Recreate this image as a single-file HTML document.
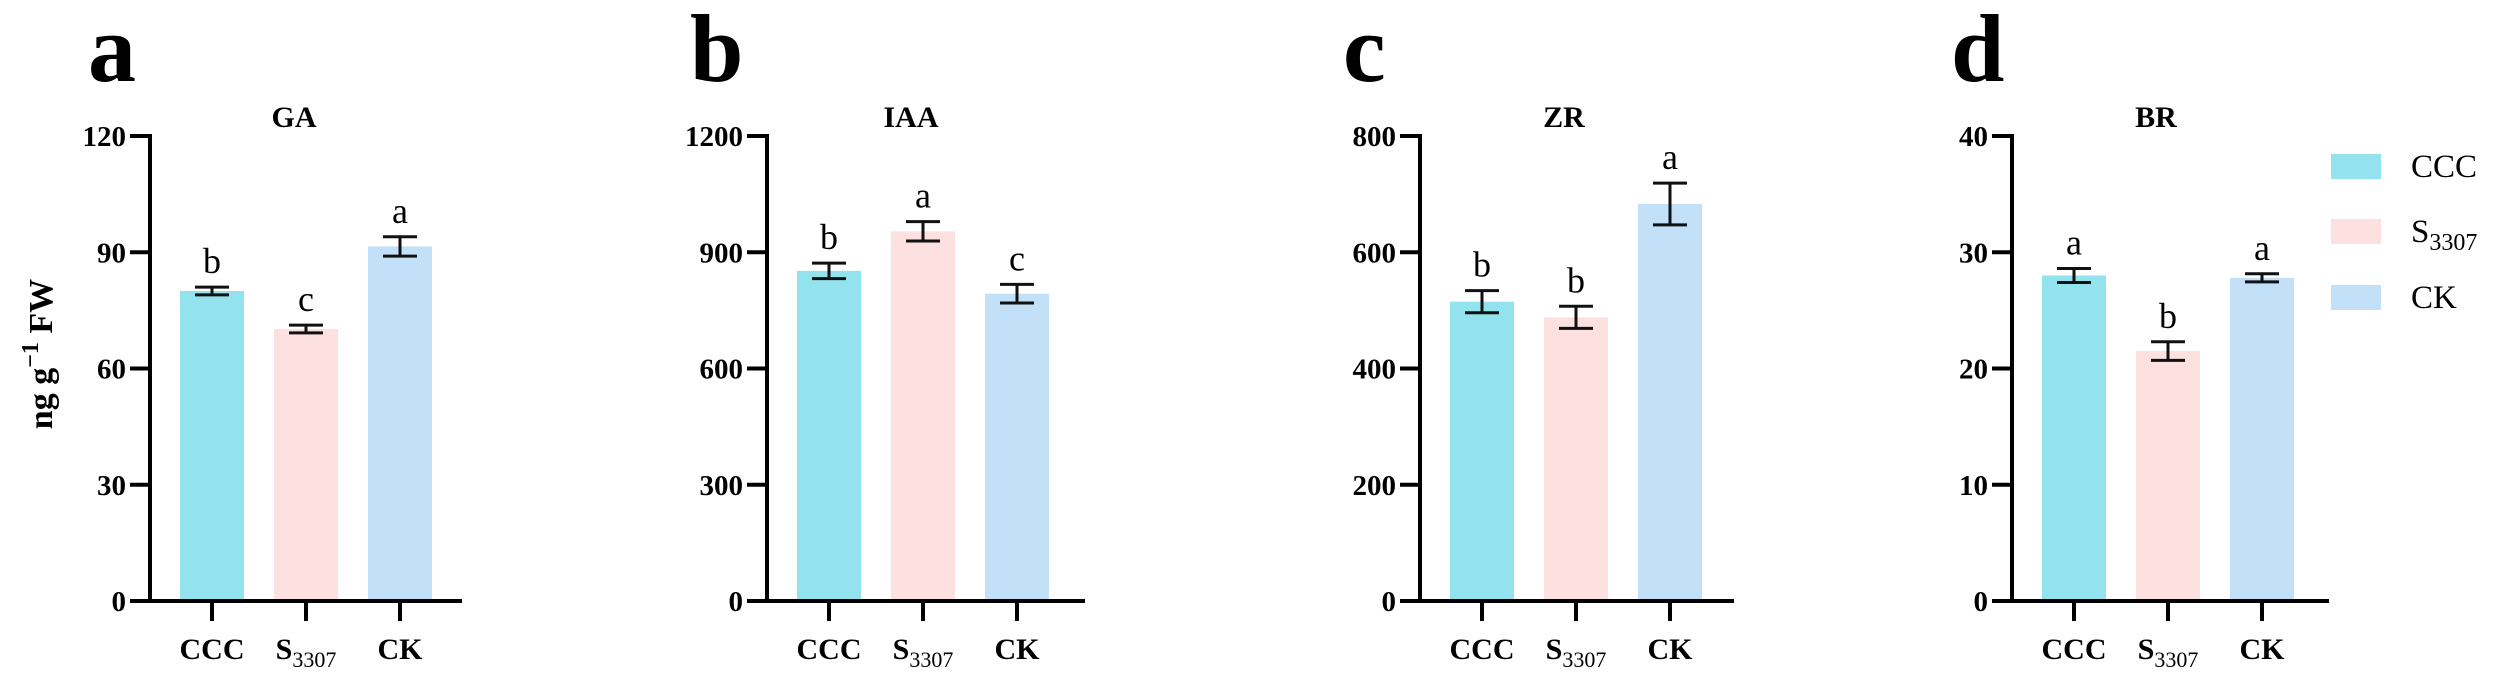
<!DOCTYPE html>
<html><head><meta charset="utf-8"><style>
html,body{margin:0;padding:0;background:#fff;}
svg{display:block;font-family:"Liberation Serif",serif;}
</style></head><body>
<svg id="chart" width="2501" height="690" viewBox="0 0 2501 690" xmlns="http://www.w3.org/2000/svg">
<text transform="translate(52,354) rotate(-90)" text-anchor="middle" font-size="34" font-weight="bold">ng g<tspan dy="-14" font-size="24">−1</tspan><tspan dy="14"> FW</tspan></text>
<g>
<rect x="2331" y="154" width="50" height="25" fill="#93e3ee"/>
<text x="2411" y="177" font-size="33">CCC</text>
<rect x="2331" y="219" width="50" height="25" fill="#fde0e0"/>
<text x="2411" y="242" font-size="33">S<tspan font-size="24" dy="8">3307</tspan></text>
<rect x="2331" y="285" width="50" height="25" fill="#c2e0f8"/>
<text x="2411" y="308" font-size="33">CK</text>
</g>
</svg>
<script>
const categories = ["CCC", "S3307", "CK"];
const panelLetters = ["a", "b", "c", "d"];
const panelTitles = ["GA", "IAA", "ZR", "BR"];
const gaValues = [80, 70.2, 91.5];
const gaErrors = [1, 1, 2.5];
const gaLetters = ["b", "c", "a"];
const gaTicks = [0, 30, 60, 90, 120];
const iaaValues = [852, 954, 793];
const iaaErrors = [20, 25, 24];
const iaaLetters = ["b", "a", "c"];
const iaaTicks = [0, 300, 600, 900, 1200];
const zrValues = [515, 488, 683];
const zrErrors = [19, 19, 36];
const zrLetters = ["b", "b", "a"];
const zrTicks = [0, 200, 400, 600, 800];
const brValues = [28.0, 21.5, 27.8];
const brErrors = [0.6, 0.8, 0.35];
const brLetters = ["a", "b", "a"];
const brTicks = [0, 10, 20, 30, 40];

const NS = "http://www.w3.org/2000/svg";
const svg = document.getElementById("chart");
const colors = ["#93e3ee", "#fde0e0", "#c2e0f8"];
function mk(tag, attrs, parent) {
  const e = document.createElementNS(NS, tag);
  for (const k in attrs) e.setAttribute(k, attrs[k]);
  (parent || svg).appendChild(e);
  return e;
}
const layout = [
  {ax: 150, end: 462, letterX: 88},
  {ax: 767, end: 1085, letterX: 690},
  {ax: 1420, end: 1734, letterX: 1343},
  {ax: 2012, end: 2329, letterX: 1951}
];
const panels = [
  [gaValues, gaErrors, gaLetters, gaTicks],
  [iaaValues, iaaErrors, iaaLetters, iaaTicks],
  [zrValues, zrErrors, zrLetters, zrTicks],
  [brValues, brErrors, brLetters, brTicks]
];
const Y0 = 601, YTOP = 136;
panels.forEach((p, i) => {
  const [vals, errs, sig, ticks] = p;
  const L = layout[i];
  const g = mk("g", {});
  
  
  const maxT = ticks[ticks.length - 1];
  const y = v => Y0 - (v / maxT) * (Y0 - YTOP);
  const x = j => L.ax + 62 + j * 94;
  const pl = mk("text", {x: L.letterX, y: 81, "font-size": 96, "font-weight": "bold"}, g);
  pl.textContent = panelLetters[i];
  
  
  const tt = mk("text", {x: x(1) - 12, y: 127, "font-size": 30, "font-weight": "bold", "text-anchor": "middle"}, g);
  tt.textContent = panelTitles[i];
  
  
  vals.forEach((v, j) => {
    const b = mk("rect", {x: x(j) - 32, y: y(v), width: 64, height: Y0 - y(v), fill: colors[j]}, g);
    
    
    const e = errs[j], cx = x(j);
    const eb = mk("path", {d: `M${cx-17},${y(v+e)}H${cx+17}M${cx},${y(v+e)}V${y(v-e)}M${cx-17},${y(v-e)}H${cx+17}`, stroke: "#111", "stroke-width": 3, fill: "none"}, g);
    
    
    const s = mk("text", {x: cx, y: y(v + e) - 14, "font-size": 36, "text-anchor": "middle"}, g);
    s.textContent = sig[j];
    
    
    mk("line", {x1: cx, x2: cx, y1: Y0, y2: Y0 + 20, stroke: "#000", "stroke-width": 4}, g);
    const xl = mk("text", {x: cx, y: 659, "font-size": 30, "font-weight": "bold", "text-anchor": "middle"}, g);
    
    
    if (categories[j] === "S3307") {
      xl.innerHTML = 'S<tspan font-size="22" font-weight="normal" dy="8">3307</tspan>';
    } else xl.textContent = categories[j];
  });
  ticks.forEach(t => {
    mk("line", {x1: L.ax - 20, x2: L.ax, y1: y(t), y2: y(t), stroke: "#000", "stroke-width": 4}, g);
    const tl = mk("text", {x: L.ax - 24, y: y(t) + 10, "font-size": 29, "font-weight": "bold", "text-anchor": "end"}, g);
    tl.textContent = t;
    
    
  });
  const ya = mk("line", {x1: L.ax, x2: L.ax, y1: YTOP - 2, y2: Y0 + 2, stroke: "#000", "stroke-width": 4}, g);
  
  
  const xa = mk("line", {x1: L.ax - 20, x2: L.end, y1: Y0, y2: Y0, stroke: "#000", "stroke-width": 4}, g);
  
  
});
</script>
</body></html>
